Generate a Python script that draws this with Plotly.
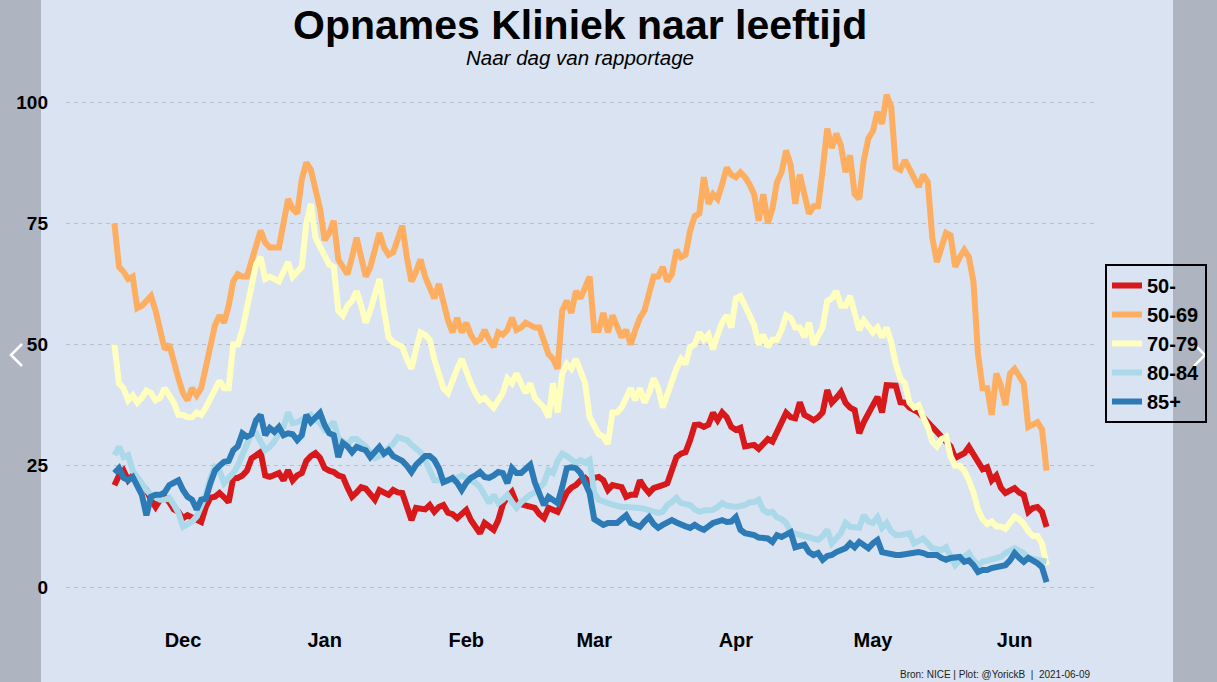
import pandas as pd
import plotly.graph_objects as go

# ---------------- data ----------------
start_date = "2020-11-16"
n_days = 205
dates = pd.date_range(start_date, periods=n_days, freq="D")

age_groups = ["50-", "50-69", "70-79", "80-84", "85+"]
line_colors = ["#d7191c", "#fdae61", "#ffffbf", "#abd9e9", "#2c7bb6"]

vals_50min = [
    21, 23, 24, 22, 23, 21.5, 21, 20, 18, 16.5,
    18, 18.5, 17.5, 16, 15.5, 14.2, 14.8, 14.4, 14, 13.4,
    16.5, 18.4, 18.6, 19.4, 18.5, 17.5, 22.5, 22.5, 23, 24,
    26.5, 27, 27.8, 23, 22.7, 23.1, 23.5, 22, 24.1, 22,
    23, 23.5, 26, 27, 27.6, 26.6, 24.5, 24, 23.7, 23,
    22.7, 20.5, 18.6, 19.5, 20.6, 20.3, 19, 18, 20, 19.5,
    19, 20, 19.5, 19.4, 16.5, 13.8, 16.3, 16, 16, 16.9,
    15.5, 16.5, 16.9, 15.3, 15, 14.2, 15, 15.9, 13.8, 12.5,
    11.1, 13.2, 12.5, 11.8, 13.8, 17, 18.6, 19.6, 17.3, 17,
    16.9, 16.5, 16.3, 15, 14.2, 16.3, 16, 15.5, 17.5, 19.5,
    20.5, 21, 22, 22.5, 21.5, 22.5, 22.7, 22, 20, 21,
    20.8, 20.6, 18.6, 19, 19, 22, 20.5, 19.4, 20.4, 20.6,
    21, 21.4, 24.1, 26.8, 27.5, 27.8, 30.3, 33.4, 33.5, 33,
    33.5, 35.9, 34.4, 36, 35, 33, 32.4, 32.8, 29, 29.3,
    29.3, 28.5, 29.5, 30.5, 30, 32, 34.4, 35.9, 35, 34.8,
    38.1, 35.5, 35, 34.4, 35, 36, 40.6, 38, 39, 40.2,
    38, 37, 36.5, 31.7, 34, 35.5, 37.5, 39.2, 36, 41.6,
    41.6, 41.5, 38.1, 38, 37, 36.5, 36, 35, 34, 33,
    32, 30.7, 30, 29, 26.6, 27, 27.6, 28.9, 27.5, 26.2,
    24.3, 24.7, 22, 23, 20.5, 19.4, 19.8, 20.4, 19.5, 19,
    15.5, 16.3, 16.5, 15.5, 12.4,
]

vals_50_69 = [
    75, 66, 65, 63.5, 64, 57.5, 58, 59, 60, 57,
    53, 49, 50, 46, 43, 40, 38.5, 41, 39.5, 41,
    45, 50, 54, 56, 54.5, 58, 63, 64.5, 64, 64,
    67, 70, 73.5, 71, 70, 70, 70, 75, 80, 78,
    77, 84, 87.5, 86, 82, 78, 71.5, 73, 75.5, 67.5,
    66, 64.5, 68, 72, 68, 64, 66, 70, 73, 70,
    68.5, 69, 72, 74.5, 68, 63, 65, 67.5, 64, 62,
    59.5, 62.5, 58, 55, 52.5, 55.5, 52.5, 54.5, 52, 50.5,
    51, 53, 51, 49.5, 52.5, 52, 53, 55.5, 53, 53.5,
    54.5, 54, 53.5, 53.5, 50.5, 48, 47, 45, 57, 59,
    56.5, 61, 59.5, 62, 64, 53, 53, 56.5, 52.5, 56,
    53.5, 51.5, 53, 50, 53, 55.5, 57, 60, 64, 64,
    66, 63, 64.5, 69.5, 68, 68.5, 73.5, 76.5, 77, 84.5,
    79, 81, 80, 83, 86.5, 85, 84.5, 85.5, 84.5, 83,
    81, 75.5, 81, 75, 78, 83.5, 85.5, 90, 87, 79,
    85, 81, 77, 78.5, 78.5, 86, 94.5, 90.5, 93.5, 91,
    85.5, 89, 81, 80, 88, 92.5, 94, 98, 95.5, 101.5,
    99, 86.5, 86, 88, 86, 84, 82.5, 85, 83.5, 72,
    67, 70, 73, 72.5, 66, 68, 69.5, 68, 63, 48,
    41, 41, 35.5, 44, 41.5, 37.5, 44, 45, 43.5, 42,
    33, 33.5, 34, 32.5, 24,
]

vals_70_79 = [
    50, 42, 41, 38.5, 39.5, 38, 39, 40.5, 40, 38.5,
    39, 41, 39.5, 38, 35.5, 35.5, 35, 35, 36, 35.5,
    37, 39, 41, 42.5, 41, 41, 50, 50, 53, 58,
    63, 66.5, 68, 63.5, 64, 63.5, 63, 65, 67, 64,
    65, 66, 75, 79, 72, 70, 68, 66.5, 66, 57,
    56, 58, 59, 61, 58, 54.5, 57, 60, 63.5, 57,
    51.5, 50.5, 50, 49.5, 47, 45, 49, 52.5, 52, 51,
    47, 44, 41, 40, 43, 45, 47, 44, 42, 40,
    38.5, 39, 38, 37, 38.5, 40, 43, 42, 44, 42,
    40, 42, 39, 38, 37, 35, 42, 36, 44, 46,
    45, 47, 44, 42, 35, 33, 31.5, 31, 29.5, 36,
    36, 37, 39, 41, 38.5, 41, 38, 40, 43, 41,
    37, 40, 43, 45, 47, 46, 49.5, 50, 52.5, 51,
    52, 49, 52, 54.5, 56, 53.5, 59.5, 60, 58, 56,
    54, 50, 52, 49.5, 51, 51, 53, 56, 55.5, 53.5,
    53.5, 51.5, 54.5, 50, 51.5, 53.5, 59, 59.5, 61, 58,
    58, 60, 56.5, 53, 55, 53.5, 52.5, 53.5, 51.5, 53.5,
    50.5, 46, 43, 42, 38, 37, 37.5, 35, 33, 30,
    29, 30.5, 31, 27, 25, 25, 24, 22, 19.5, 16,
    14, 13, 13.5, 12.5, 12.5, 12, 13.5, 14.5, 14, 13,
    11.5, 10.5, 10.5, 9, 4.5,
]

vals_80_84 = [
    27.2, 28.9, 26.8, 27.2, 24, 22.5, 21, 20, 19, 18.5,
    18, 18, 18.4, 17, 15.3, 12.4, 12.8, 13.5, 14.5, 16.5,
    19, 22.5, 24.7, 24, 21.4, 22.5, 23.5, 25, 27.5, 29.5,
    31.7, 31.7, 30, 28.2, 28.9, 30, 31.7, 33, 36, 33.8,
    34, 34.4, 35, 35.5, 34.5, 33.8, 32.4, 33, 34, 30.7,
    30, 29.3, 30.5, 30.5, 29.7, 29, 27.8, 26.6, 27, 27.6,
    28.7, 29.5, 30.9, 30.5, 30.3, 29.3, 28.5, 27.8, 26.2, 24,
    22, 22, 22, 22, 22, 22.5, 23, 22.5, 22, 21.5,
    20.6, 19, 17.3, 19, 17.3, 18, 19, 17.5, 16.3, 17.5,
    18.4, 19, 19.5, 20.5, 21.4, 24.1, 23.5, 26, 27.5, 27,
    26.2, 25.6, 26.2, 25.6, 26.2, 19.4, 18, 17.5, 17.3, 17,
    16.7, 16.5, 16.5, 16.5, 16.4, 16.3, 16.1, 15.9, 15.6, 15.3,
    15.5, 16.9, 17.5, 18.4, 17.3, 17, 16.9, 16, 15.5, 15.8,
    15.9, 15.9, 16.5, 17.3, 16.8, 16.5, 16.5, 16.7, 16.9, 17.5,
    17.5, 18, 15.9, 15.3, 15.5, 14.4, 14, 13.2, 11.3, 11,
    10.7, 10.5, 10, 9.7, 9.7, 10.5, 11.8, 9, 10, 11.1,
    13.2, 12.4, 12.3, 12.2, 14.8, 13.5, 13.2, 14.4, 12.2, 13.2,
    11.5, 10.7, 10.7, 11, 11.1, 9, 9.5, 10, 9, 8,
    7.8, 7.6, 8.2, 6.2, 4.5, 5.5, 6.2, 7, 5.5, 4.5,
    5.2, 5.5, 5.6, 6, 6.2, 7, 7.5, 8, 7.5, 7,
    6, 5.8, 5.6, 5.4, 5.2,
]

vals_85plus = [
    23.5, 24.5, 22.5, 22, 22.7, 21, 19, 14.8, 18.6, 19,
    19, 19.5, 21, 21.5, 22, 20, 18.6, 18, 16, 18,
    18.2, 21.4, 24, 25, 25.8, 26, 28.2, 29, 31.7, 31,
    31.5, 34.4, 35.5, 31.3, 32.8, 32, 33, 31.3, 31.7, 31.5,
    30.3, 31.3, 35.5, 34, 35, 35.9, 33.4, 31.7, 31.3, 26.8,
    29.7, 29, 27.8, 28.9, 28.5, 28.2, 26.8, 28, 28.9, 27.5,
    28.2, 27, 26.6, 26, 25, 23.7, 25.2, 26, 27, 27,
    26.2, 24.5, 21.6, 22, 22.5, 21.5, 20, 21.5, 22.5, 23,
    23.7, 22.7, 22.5, 23, 23.7, 23.5, 21.4, 24.5, 23.5, 23.5,
    24.5, 25.2, 21.6, 19, 16.9, 18.6, 18, 17.3, 20.6, 24.5,
    24.7, 24.5, 23.5, 21.4, 19.4, 14, 13.4, 12.8, 13.2, 13.2,
    13.2, 14, 14.8, 13.2, 12.8, 12.4, 13.5, 14.4, 13, 12.2,
    12.8, 13.2, 13.8, 13.3, 12.8, 12.5, 12.2, 12.8, 12.2, 11.8,
    12.5, 13.2, 13.5, 13.8, 13.4, 13.5, 14.4, 11.8, 11.1, 11,
    10.7, 10.2, 10, 10, 9.3, 10.7, 10.3, 10.8, 11.3, 8.2,
    8.5, 8.7, 7.2, 6.6, 7, 5.6, 6.4, 6.6, 7.2, 7.6,
    8, 9, 8.2, 9.3, 8.8, 8, 9, 9.7, 7.2, 7,
    6.6, 6.6, 6.6, 6.8, 7, 7, 7.2, 7, 6.6, 6.6,
    6.6, 6, 5.6, 6, 6, 6.2, 5.2, 5.5, 4.5, 3.1,
    3.5, 3.5, 3.9, 4.2, 4.2, 4.5, 5.5, 7, 6, 5.2,
    6, 5.5, 4.9, 4.1, 1,
]

series_values = [vals_50min, vals_50_69, vals_70_79, vals_80_84, vals_85plus]
y_ticks = [0, 25, 50, 75, 100]

title_text = "Opnames Kliniek naar leeftijd"
subtitle_text = "Naar dag van rapportage"
caption_text = "Bron: NICE | Plot: @YorickB  |  2021-06-09"

# ---------------- layout helpers ----------------
W, H = 1217, 682
PL, PR, PT, PB = 66, 1095, 54, 626
BG = "#dae3f1"
SIDE = "#aeb5c1"
FONT = "Liberation Sans, Arial, sans-serif"


def px(x):
    return (x - PL) / (PR - PL)


def py(y):
    return (PB - y) / (PB - PT)


fig = go.Figure()
for name, vals, col in zip(age_groups, series_values, line_colors):
    fig.add_trace(go.Scatter(
        x=dates, y=vals, mode="lines", name=name,
        line=dict(color=col, width=6),
        hoverinfo="x+y+name",
    ))

t0 = pd.Timestamp(start_date)
x_range = [t0 + pd.Timedelta(days=-10.6), t0 + pd.Timedelta(days=214.6)]

fig.update_layout(
    width=W, height=H,
    margin=dict(l=PL, r=W - PR, t=PT, b=H - PB, pad=0, autoexpand=False),
    paper_bgcolor=BG, plot_bgcolor=BG,
    font=dict(family=FONT, color="black"),
    showlegend=True,
    legend=dict(
        x=px(1105), y=py(264), xanchor="left", yanchor="top",
        bgcolor="rgba(0,0,0,0)", bordercolor="black", borderwidth=2,
        font=dict(family=FONT, size=20, color="black", weight="bold"),
        itemwidth=30, tracegroupgap=0,
    ),
    xaxis=dict(
        type="date", range=x_range,
        tick0="2020-12-01", dtick="M1", tickformat="%b",
        showgrid=False, zeroline=False, showline=False, ticks="",
        tickfont=dict(family=FONT, size=20, color="black", weight="bold"),
    ),
    yaxis=dict(
        range=[-8.04, 109.9], tickvals=y_ticks,
        showgrid=True, gridcolor="#b9c0cc", gridwidth=1, griddash="4px,4px",
        zeroline=False, showline=False, ticks="",
        ticklabelstandoff=17,
        tickfont=dict(family=FONT, size=19, color="black", weight="bold"),
    ),
    shapes=[
        dict(type="rect", xref="paper", yref="paper", layer="below",
             x0=px(0), x1=px(41), y0=py(H), y1=py(0),
             fillcolor=SIDE, line=dict(width=0)),
        dict(type="rect", xref="paper", yref="paper", layer="below",
             x0=px(1173), x1=px(W), y0=py(H), y1=py(0),
             fillcolor=SIDE, line=dict(width=0)),
        dict(type="path", xref="paper", yref="paper", layer="above",
             path=f"M {px(22)},{py(344)} L {px(11)},{py(355)} L {px(22)},{py(366)}",
             line=dict(color="white", width=2.5)),
        dict(type="path", xref="paper", yref="paper", layer="above",
             path=f"M {px(1194)},{py(344)} L {px(1205)},{py(355)} L {px(1194)},{py(366)}",
             line=dict(color="white", width=2.5)),
    ],
    annotations=[
        dict(text=title_text, xref="paper", yref="paper", x=px(580), y=py(0),
             xanchor="center", yanchor="top", showarrow=False,
             font=dict(family=FONT, size=41, color="black", weight="bold")),
        dict(text=subtitle_text, xref="paper", yref="paper", x=px(580), y=py(58),
             xanchor="center", yanchor="middle", showarrow=False,
             font=dict(family=FONT, size=20.5, color="black", style="italic")),
        dict(text=caption_text, xref="paper", yref="paper", x=px(1093), y=py(674),
             xanchor="right", yanchor="middle", showarrow=False,
             font=dict(family=FONT, size=10, color="#222222")),
    ],
)

fig.write_html("out.html")
